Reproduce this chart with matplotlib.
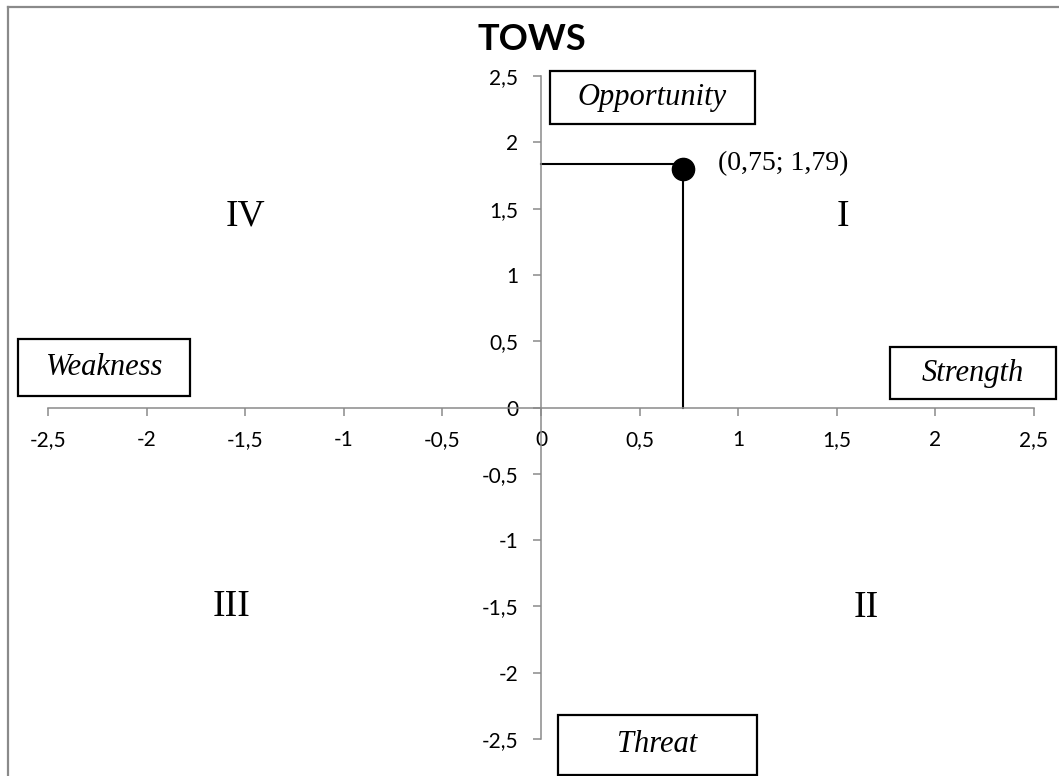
import matplotlib.pyplot as plt
from matplotlib.patches import Rectangle
from matplotlib.lines import Line2D

# Data
point_x = 0.72
point_y = 1.80
guide_y = 1.84
point_label = "(0,75; 1,79)"
ticks = [-2.5, -2, -1.5, -1, -0.5, 0, 0.5, 1, 1.5, 2, 2.5]
tick_labels = ["-2,5", "-2", "-1,5", "-1", "-0,5", "0", "0,5", "1", "1,5", "2", "2,5"]
quadrants = ["I", "II", "III", "IV"]
quad_x = [1.53, 1.65, -1.57, -1.50]
quad_y = [1.44, -1.51, -1.50, 1.44]
box_names = ["Opportunity", "Weakness", "Strength", "Threat"]
box_x0 = [0.046, -2.65, 1.77, 0.087]
box_x1 = [1.085, -1.78, 2.61, 1.095]
box_y0 = [2.14, 0.09, 0.064, -2.77]
box_y1 = [2.54, 0.52, 0.456, -2.32]

W, H = 1059, 776
fig = plt.figure(figsize=(W / 100, H / 100), dpi=100)
ax = fig.add_axes([48 / W, (H - 739) / H, (1034 - 48) / W, (739 - 76) / H])
ax.set_xlim(-2.5, 2.5)
ax.set_ylim(-2.5, 2.5)

spine_col = "#8a8a8a"
for s in ["top", "right"]:
    ax.spines[s].set_visible(False)
ax.spines["left"].set_position(("data", 0))
ax.spines["bottom"].set_position(("data", 0))
for s in ["left", "bottom"]:
    ax.spines[s].set_color(spine_col)
    ax.spines[s].set_linewidth(1.1)

ax.set_xticks(ticks)
ax.set_xticklabels(tick_labels)
ax.set_yticks(ticks)
ax.set_yticklabels(tick_labels)
ax.tick_params(axis="both", direction="out", length=5.5, width=1.1, color=spine_col,
               labelsize=15, pad=11)
for lab in ax.get_xticklabels() + ax.get_yticklabels():
    lab.set_family("Lato")

# lines to the point
ax.plot([0, point_x], [guide_y, guide_y], color="black", lw=1.5)
ax.plot([point_x, point_x], [0, point_y], color="black", lw=1.5)
ax.plot([point_x], [point_y], "o", color="black", markersize=16)
ax.text(0.90, guide_y, point_label, family="Liberation Serif", fontsize=20,
        ha="left", va="center")

for q, qx, qy in zip(quadrants, quad_x, quad_y):
    ax.text(qx, qy, q, family="Liberation Serif", fontsize=27, ha="center", va="center")

for name, x0, x1, y0, y1 in zip(box_names, box_x0, box_x1, box_y0, box_y1):
    ax.add_patch(Rectangle((x0, y0), x1 - x0, y1 - y0, fill=True, facecolor="white",
                           edgecolor="black", lw=1.6, clip_on=False, zorder=5))
    ax.text((x0 + x1) / 2, (y0 + y1) / 2, name, family="Liberation Serif",
            style="italic", fontsize=22, ha="center", va="center", zorder=6)

fig.text(532 / W, 1 - 40 / H, "TOWS", family="Lato", fontweight="bold", fontsize=26,
         ha="center", va="center")

# outer frame (left and top edges only)
fig.add_artist(Line2D([8 / W, 8 / W], [0, 1 - 7 / H], color=spine_col, lw=1.6))
fig.add_artist(Line2D([8 / W, 1], [1 - 7 / H, 1 - 7 / H], color=spine_col, lw=1.6))

fig.savefig("out.png", dpi=100)
